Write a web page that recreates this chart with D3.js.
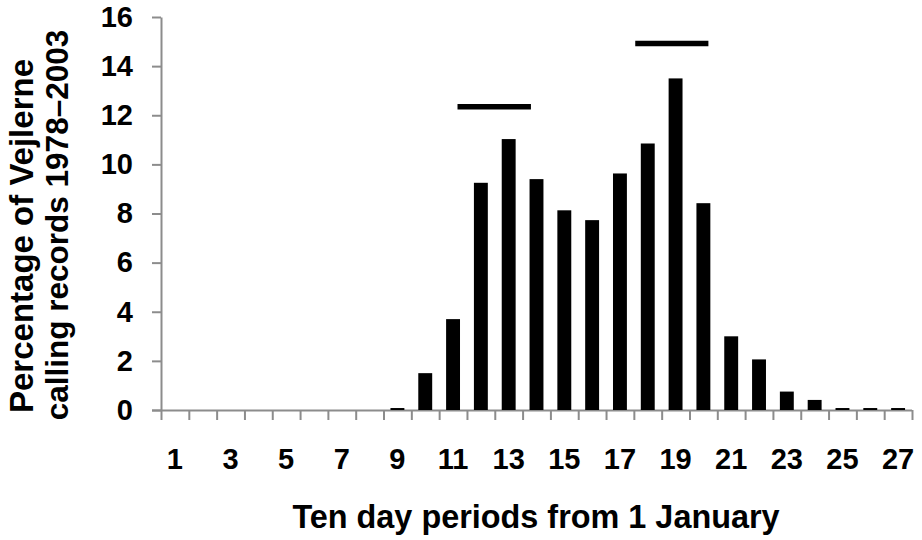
<!DOCTYPE html>
<html>
<head>
<meta charset="utf-8">
<script src="https://cdn.jsdelivr.net/npm/d3@7"></script>
<style>
  body { margin: 0; background: #fff; }
  text { font-family: "Liberation Sans", Arial, sans-serif; font-weight: bold; fill: #000; }
</style>
</head>
<body>
<div class="chart"></div>
<script>
// Ten day periods (categories)
var periods = d3.range(1, 28);

// Percentage of calling records per period
var percentages = [0, 0, 0, 0, 0, 0, 0, 0, 0.08, 1.5, 3.7, 9.25, 11.03, 9.4, 8.13, 7.73,
    9.63, 10.85, 13.5, 8.42, 3.0, 2.06, 0.75, 0.41, 0.08, 0.08, 0.08];

// Horizontal marker lines (in period units)
var lineStart = [11.16, 17.55];
var lineEnd = [13.8, 20.18];
var lineLevel = [12.35, 14.92];

// Tick labels
var yTicks = [0, 2, 4, 6, 8, 10, 12, 14, 16];
var xLabels = [1, 3, 5, 7, 9, 11, 13, 15, 17, 19, 21, 23, 25, 27];

// SVG Dimensions
var svgWidth = 922;
var svgHeight = 540;

var margin = {
    top: 17,
    right: 10,
    bottom: 130,
    left: 161
};

var plotWidth = svgWidth - margin.left - margin.right;
var plotHeight = svgHeight - margin.top - margin.bottom;

var svg = d3.select(".chart")
    .append("svg")
    .attr("width", svgWidth)
    .attr("height", svgHeight);

var chartGroup = svg.append("g")
    .attr("transform", `translate(${margin.left}, ${margin.top})`);

var data = periods.map(function(p, i) {
    return { period: p, value: percentages[i] };
});

// Scales
var xBand = d3.scaleBand()
    .domain(periods)
    .range([0, plotWidth])
    .paddingInner(0.5)
    .paddingOuter(0.25);

var xLin = d3.scaleLinear()
    .domain([0.5, 27.5])
    .range([0, plotWidth]);

var yScale = d3.scaleLinear()
    .domain([0, 16])
    .range([plotHeight, 0]);

// Y axis
var yAxis = chartGroup.append("g")
    .call(d3.axisLeft(yScale).tickValues(yTicks).tickSize(9).tickPadding(19).tickSizeOuter(0));
yAxis.selectAll("path, line").attr("stroke", "#8c8c8c").attr("stroke-width", 2);
yAxis.selectAll("text").style("font-size", "29px");

// X axis: ticks at period boundaries
var xTickAxis = chartGroup.append("g")
    .attr("transform", `translate(0, ${plotHeight})`)
    .call(d3.axisBottom(xLin).tickValues(d3.range(0.5, 28, 1)).tickSize(10).tickFormat("").tickSizeOuter(0));
xTickAxis.selectAll("path, line").attr("stroke", "#8c8c8c").attr("stroke-width", 2);
xTickAxis.select("path").attr("d", `M-9,0.5H${plotWidth}`);

// X axis labels at period centres
var xLabelAxis = chartGroup.append("g")
    .attr("transform", `translate(0, ${plotHeight})`)
    .call(d3.axisBottom(xBand).tickValues(xLabels).tickSize(0).tickPadding(38));
xLabelAxis.select("path").remove();
xLabelAxis.selectAll("text").style("font-size", "29px");

// Bars
chartGroup.selectAll(".bar")
    .data(data)
    .enter()
    .append("rect")
    .attr("class", "bar")
    .attr("x", d => xBand(d.period))
    .attr("y", d => yScale(d.value))
    .attr("width", xBand.bandwidth())
    .attr("height", d => plotHeight - yScale(d.value))
    .attr("fill", "#000");

// Marker lines
chartGroup.selectAll(".marker")
    .data(lineLevel)
    .enter()
    .append("line")
    .attr("class", "marker")
    .attr("x1", (d, i) => xLin(lineStart[i]))
    .attr("x2", (d, i) => xLin(lineEnd[i]))
    .attr("y1", d => yScale(d))
    .attr("y2", d => yScale(d))
    .attr("stroke", "#000")
    .attr("stroke-width", 5.5);

// Axis titles
svg.append("text")
    .attr("x", 536)
    .attr("y", 528)
    .attr("text-anchor", "middle")
    .style("font-size", "32.4px")
    .text("Ten day periods from 1 January");

svg.append("text")
    .attr("transform", "translate(33, 236) rotate(-90)")
    .attr("text-anchor", "middle")
    .style("font-size", "33px")
    .text("Percentage of Vejlerne");

svg.append("text")
    .attr("transform", "translate(68, 225) rotate(-90)")
    .attr("text-anchor", "middle")
    .style("font-size", "31.5px")
    .text("calling records 1978\u20132003");
</script>
</body>
</html>
